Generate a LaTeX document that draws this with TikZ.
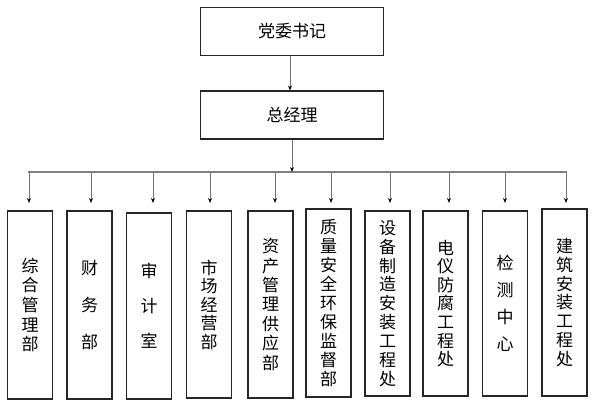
\documentclass[tikz,border=0pt]{standalone}
\usepackage{fontspec}
\newfontfamily\cjk{Noto Sans CJK SC}
\usetikzlibrary{arrows.meta}
\begin{document}
\begin{tikzpicture}[x=1pt,y=-1pt,
  box/.style={draw=black!85, line width=1.1pt, inner sep=0pt, align=center},
  topbox/.style={box, minimum width=183pt, minimum height=48pt, font=\cjk\fontsize{17}{20}\selectfont},
  dept/.style={box, minimum width=45pt, minimum height=187pt},
  conn/.style={draw=black!55, line width=0.9pt, -{Stealth[length=5pt,width=4pt,black]}},
  bus/.style={draw=black!50, line width=2.2pt}
]
\useasboundingbox (0,0) rectangle (596,408);
\node[topbox] (dw) at (292,31.5) {党委书记};
\node[topbox] (zjl) at (292,115) {总经理};

\def\vf#1{\cjk\fontsize{17}{#1}\selectfont}
\node[dept, minimum height=188pt, font=\vf{19.6}] (b1) at (30,305) {综\\合\\管\\理\\部};
\node[dept, minimum height=188pt, font=\vf{36.7}] (b2) at (89.5,305) {财\\务\\部};
\node[dept, minimum height=186pt, font=\vf{35}] (b3) at (149,306) {审\\计\\室};
\node[dept, minimum height=187pt, font=\vf{18.5}] (b4) at (209,304.5) {市\\场\\经\\营\\部};
\node[dept, minimum height=187pt, font=\vf{19.4}] (b5) at (270.5,304.5) {资\\产\\管\\理\\供\\应\\部};
\node[dept, minimum height=188pt, font=\vf{19}] (b6) at (328.5,303) {质\\量\\安\\全\\环\\保\\监\\督\\部};
\node[dept, minimum height=185pt, font=\vf{18.9}] (b7) at (387.5,303.5) {设\\备\\制\\造\\安\\装\\工\\程\\处};
\node[dept, minimum height=185pt, font=\vf{18.6}] (b8) at (445.5,303.5) {电\\仪\\防\\腐\\工\\程\\处};
\node[dept, minimum height=185pt, font=\vf{27.2}] (b9) at (505,303.5) {检\\测\\中\\心};
\node[dept, minimum height=187pt, font=\vf{18.9}] (b10) at (564.5,302.5) {建\\筑\\安\\装\\工\\程\\处};

\coordinate (busL) at (28,172);
\coordinate (busR) at (566.5,172);
\coordinate (busM) at (292,172);
\draw[bus] (busL) -- (busR);

\draw[conn] (dw.south -| 290,0) -- (zjl.north -| 290,0);
\draw[conn] (zjl.south) -- (busM);

\foreach \n/\x in {1/29,2/91,3/153,4/210,5/275,6/331,7/390,8/449,9/505,10/566}{
  \coordinate (t\n) at (\x,172);
  \draw[conn] (t\n) -- (\x,203);
}
\end{tikzpicture}
\end{document}
